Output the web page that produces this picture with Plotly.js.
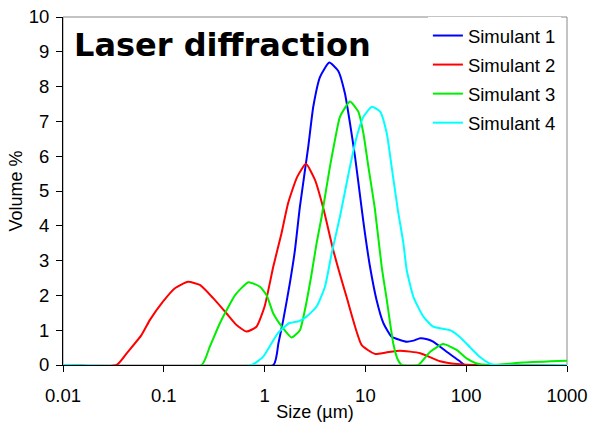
<!DOCTYPE html>
<html><head><meta charset="utf-8">
<script src="https://cdn.plot.ly/plotly-3.0.1.min.js"></script>
<style>html,body{margin:0;padding:0;background:#fff}#chart{width:590px;height:429px}</style>
</head><body><div id="chart"></div>
<script>
const seriesNames = ["Simulant 1", "Simulant 2", "Simulant 3", "Simulant 4"];
const seriesColors = ["#0000ff", "#ff0000", "#00ee00", "#00ffff"];

const sizeSim1 = [0.01, 1.22, 1.37, 1.53, 1.78, 2.0, 2.24, 2.71, 3.04, 3.55, 4.38, 5.38, 6.27, 7.03, 7.89, 9.18, 9.9, 11.1, 12.9, 15.1, 18.2, 22, 25.7, 30, 35, 41, 47, 64, 87, 96, 1000];
const volSim1  = [0, 0, 0.62, 1.29, 2.35, 3.30, 4.55, 6.27, 7.42, 8.28, 8.69, 8.45, 7.8, 6.95, 5.99, 4.50, 3.78, 2.83, 1.87, 1.2, 0.81, 0.72, 0.67, 0.7, 0.77, 0.74, 0.67, 0.38, 0.1, 0, 0];

const sizeSim2 = [0.01, 0.034, 0.044, 0.060, 0.0726, 0.098, 0.128, 0.174, 0.228, 0.309, 0.42, 0.527, 0.662, 0.83, 1.0, 1.22, 1.47, 1.71, 2.1, 2.57, 3.16, 3.82, 4.8, 6.5, 9.2, 12.4, 16, 22, 35, 55, 87, 126, 1000];
const volSim2  = [0, 0, 0.38, 0.86, 1.29, 1.82, 2.20, 2.39, 2.30, 1.92, 1.48, 1.15, 0.96, 1.10, 1.68, 2.83, 3.78, 4.65, 5.4, 5.78, 5.32, 4.51, 3.30, 1.96, 0.57, 0.32, 0.36, 0.41, 0.34, 0.11, 0.02, 0, 0];

const sizeSim3 = [0.01, 0.237, 0.286, 0.36, 0.42, 0.51, 0.69, 0.9, 1.05, 1.22, 1.53, 1.85, 2.24, 2.51, 2.93, 3.28, 3.68, 4.45, 4.99, 5.59, 7.03, 8.5, 9.55, 10.7, 12.4, 14.5, 16.3, 18.9, 21, 22.9, 33.5, 44, 59, 81, 101, 125, 174, 370, 1000];
const volSim3  = [0, 0, 0.53, 1.2, 1.58, 2.01, 2.38, 2.25, 2.0, 1.48, 1.05, 0.79, 1.0, 1.58, 2.63, 3.5, 4.26, 5.7, 6.47, 7.13, 7.57, 7.28, 6.66, 5.7, 4.5, 2.83, 1.87, 0.62, 0.15, 0, 0, 0.38, 0.6, 0.43, 0.19, 0.05, 0, 0.07, 0.12];

const sizeSim4 = [0.01, 0.74, 0.97, 1.35, 1.75, 2.2, 2.61, 3.28, 3.97, 4.63, 5.59, 7.03, 8.2, 9.55, 11.6, 14, 16.3, 18.2, 21, 23.8, 25.7, 29.9, 37.6, 47, 69, 87, 110, 138, 174, 200, 1000];
const volSim4  = [0, 0, 0.24, 0.91, 1.2, 1.26, 1.39, 1.68, 2.25, 3.21, 4.26, 5.7, 6.56, 7.13, 7.42, 7.28, 6.65, 5.7, 4.45, 3.5, 2.73, 1.96, 1.39, 1.1, 1.0, 0.8, 0.5, 0.22, 0.03, 0, 0];

const xTickVals = [0.01, 0.1, 1, 10, 100, 1000];
const xTickText = ["0.01", "0.1", "1", "10", "100", "1000"];
const chartTitle = "Laser diffraction";
const xTitle = "Size (µm)";
const yTitle = "Volume %";

const xs = [sizeSim1, sizeSim2, sizeSim3, sizeSim4];
const ys = [volSim1, volSim2, volSim3, volSim4];
const font = "Arial, 'Liberation Sans', sans-serif";

const traces = xs.map((x, i) => ({
  x: x, y: ys[i], type: "scatter", mode: "lines", name: seriesNames[i],
  legendgroup: "g" + i,
  line: {color: seriesColors[i], width: 2, shape: "spline", smoothing: 0.5}
}));

const layout = {
  width: 590, height: 429,
  margin: {l: 63, r: 23, t: 17, b: 64},
  paper_bgcolor: "#fff", plot_bgcolor: "#fff",
  showlegend: true,
  font: {family: font, size: 18, color: "#000"},
  xaxis: {
    type: "log", range: [-2, 3], tickvals: xTickVals, ticktext: xTickText,
    ticks: "outside", ticklen: 6, tickcolor: "#000", showline: true, linecolor: "#000", linewidth: 1,
    showgrid: false, zeroline: false, tickfont: {family: font, size: 18.5}, ticklabelstandoff: 8,
    title: {text: xTitle, font: {family: font, size: 18}, standoff: 0}
  },
  yaxis: {
    range: [0, 10], dtick: 1, tick0: 0,
    ticks: "outside", ticklen: 6, tickcolor: "#000", showline: true, linecolor: "#000", linewidth: 1,
    showgrid: false, zeroline: false, tickfont: {family: font, size: 18.5}, ticklabelstandoff: 3,
    title: {text: yTitle, font: {family: font, size: 18}, standoff: 1}
  },
  legend: {
    x: 0.724, y: 1.0, xanchor: "left", yanchor: "top",
    bgcolor: "#fff", borderwidth: 0, font: {family: font, size: 18.5},
    traceorder: "grouped", tracegroupgap: 2
  },
  shapes: [{type: "rect", xref: "paper", yref: "paper", x0: 0, x1: 1, y0: 0, y1: 1,
            line: {color: "#888", width: 1}, layer: "below"}],
  annotations: [{
    text: "<b>" + chartTitle + "</b>", xref: "paper", yref: "paper",
    x: 0.018, y: 0.98, xanchor: "left", yanchor: "top", showarrow: false,
    font: {family: "'DejaVu Sans', Verdana, sans-serif", size: 32, color: "#000"}
  }]
};

Plotly.newPlot("chart", traces, layout, {staticPlot: true, displayModeBar: false});
</script></body></html>
